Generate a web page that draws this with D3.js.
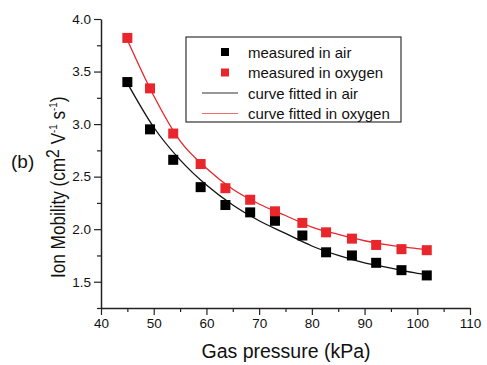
<!DOCTYPE html>
<html>
<head>
<meta charset="utf-8">
<script src="https://cdn.jsdelivr.net/npm/d3@7"></script>
<style>
  body { margin: 0; background: #fff; }
  text { font-family: "Liberation Sans", Arial, sans-serif; fill: #111; }
</style>
</head>
<body>
<div id="chart-area"></div>
<script>
// measured points
const pressure = [45, 49.3, 53.7, 58.9, 63.6, 68.3, 73.0, 78.2, 82.7, 87.6, 92.2, 97.0, 101.8]
const airMobility = [3.40, 2.95, 2.66, 2.40, 2.23, 2.16, 2.08, 1.94, 1.78, 1.75, 1.68, 1.61, 1.56]
const oxygenMobility = [3.82, 3.34, 2.91, 2.62, 2.39, 2.28, 2.17, 2.06, 1.97, 1.91, 1.85, 1.81, 1.80]

// fitted curves
const fitPressure = [45, 50, 55, 60, 65, 70, 75, 80, 85, 90, 95, 100, 102.5]
const airFit = [3.39, 2.97, 2.66, 2.42, 2.23, 2.08, 1.96, 1.84, 1.75, 1.68, 1.63, 1.58, 1.565]
const oxygenFit = [3.80, 3.27, 2.84, 2.58, 2.38, 2.24, 2.13, 2.02, 1.95, 1.89, 1.845, 1.815, 1.80]

const xTicks = [40, 50, 60, 70, 80, 90, 100, 110]
const yTicks = [1.5, 2.0, 2.5, 3.0, 3.5, 4.0]
const legendLabels = ["measured in air", "measured in oxygen", "curve fitted in air", "curve fitted in oxygen"]

const RED = "#e8262c"
const FONT = "Liberation Sans, Arial, sans-serif"
const MARGIN = {LEFT: 101, RIGHT: 17, TOP: 19, BOTTOM: 57}
const WIDTH = 487 - MARGIN.LEFT - MARGIN.RIGHT
const HEIGHT = 365 - MARGIN.TOP - MARGIN.BOTTOM

const svg = d3.select("#chart-area").append("svg")
  .attr("width", 487)
  .attr("height", 365)

const g = svg.append("g")
  .attr("transform", `translate(${MARGIN.LEFT}, ${MARGIN.TOP})`)

const x = d3.scaleLinear().domain([40, 110]).range([0, WIDTH])
const y = d3.scaleLinear().domain([1.25, 4.0]).range([HEIGHT, 0])

// minor ticks first, majors on top
g.append("g")
  .attr("transform", `translate(0, ${HEIGHT})`)
  .call(d3.axisBottom(x).tickValues(d3.range(45, 110, 10)).tickSize(4).tickFormat(""))
  .call(a => a.select(".domain").remove())
g.append("g")
  .call(d3.axisLeft(y).tickValues([1.25, 1.75, 2.25, 2.75, 3.25, 3.75]).tickSize(4).tickFormat(""))
  .call(a => a.select(".domain").remove())

g.append("g")
  .attr("transform", `translate(0, ${HEIGHT})`)
  .call(d3.axisBottom(x).tickValues(xTicks).tickSize(7).tickSizeOuter(0).tickPadding(3).tickFormat(d3.format("d")))
g.append("g")
  .call(d3.axisLeft(y).tickValues(yTicks).tickSize(7).tickSizeOuter(0).tickPadding(3).tickFormat(d3.format(".1f")))

g.selectAll(".tick line").attr("stroke", "#222").attr("stroke-width", 1.2)
g.selectAll(".domain").attr("stroke", "#222").attr("stroke-width", 1.5)
g.selectAll(".tick text").attr("font-size", "13.5px").attr("fill", "#222")
  .attr("font-family", FONT)

// fitted curves
const fitLine = vals => d3.line()
  .x((d, i) => x(fitPressure[i]))
  .y(d => y(d))
  .curve(d3.curveMonotoneX)(vals)

g.append("path").attr("d", fitLine(airFit))
  .attr("fill", "none").attr("stroke", "#111").attr("stroke-width", 1.3)
g.append("path").attr("d", fitLine(oxygenFit))
  .attr("fill", "none").attr("stroke", RED).attr("stroke-width", 1.3)

// measured points
const S = 10
g.selectAll(".air").data(airMobility).enter().append("rect")
  .attr("x", (d, i) => x(pressure[i]) - S / 2)
  .attr("y", d => y(d) - S / 2)
  .attr("width", S).attr("height", S)
  .attr("fill", "#000")
g.selectAll(".oxy").data(oxygenMobility).enter().append("rect")
  .attr("x", (d, i) => x(pressure[i]) - S / 2)
  .attr("y", d => y(d) - S / 2)
  .attr("width", S).attr("height", S)
  .attr("fill", RED)

// legend
const legend = svg.append("g").attr("transform", "translate(186, 37)")
legend.append("rect")
  .attr("x", 0).attr("y", 0).attr("width", 215).attr("height", 85)
  .attr("fill", "#fff").attr("stroke", "#333").attr("stroke-width", 1.2)

legendLabels.forEach((label, i) => {
  const ly = 15 + i * 20.5
  if (i < 2) {
    legend.append("rect")
      .attr("x", 39 - 4).attr("y", ly - 4).attr("width", 8).attr("height", 8)
      .attr("fill", i === 0 ? "#000" : RED)
  } else {
    legend.append("line")
      .attr("x1", 16).attr("x2", 52).attr("y1", ly).attr("y2", ly)
      .attr("stroke", i === 2 ? "#333" : "#f07070").attr("stroke-width", 1.2)
  }
  legend.append("text")
    .attr("x", 62).attr("y", ly + 5.5)
    .attr("font-size", "15px")
    .text(label)
})

// x-label
svg.append("text")
  .attr("x", 286)
  .attr("y", 358)
  .attr("font-size", "19.5px")
  .attr("text-anchor", "middle")
  .text("Gas pressure (kPa)")

// y-label with superscripts, a bit narrower than the default face
const yLabel = svg.append("text")
  .attr("transform", "translate(65, 278) rotate(-90) scale(0.88, 1)")
  .attr("font-size", "19.5px")
yLabel.append("tspan").text("Ion Mobility (cm")
yLabel.append("tspan").attr("dy", -6).attr("font-size", "18px").text("2")
yLabel.append("tspan").attr("dy", 6).text(" V")
yLabel.append("tspan").attr("dy", -8).attr("font-size", "11px").text("-1")
yLabel.append("tspan").attr("dy", 8).text(" s")
yLabel.append("tspan").attr("dy", -8).attr("font-size", "11px").text("-1")
yLabel.append("tspan").attr("dy", 8).text(")")

// panel tag
svg.append("text")
  .attr("x", 11)
  .attr("y", 168)
  .attr("font-size", "19px")
  .text("(b)")
</script>
</body>
</html>
